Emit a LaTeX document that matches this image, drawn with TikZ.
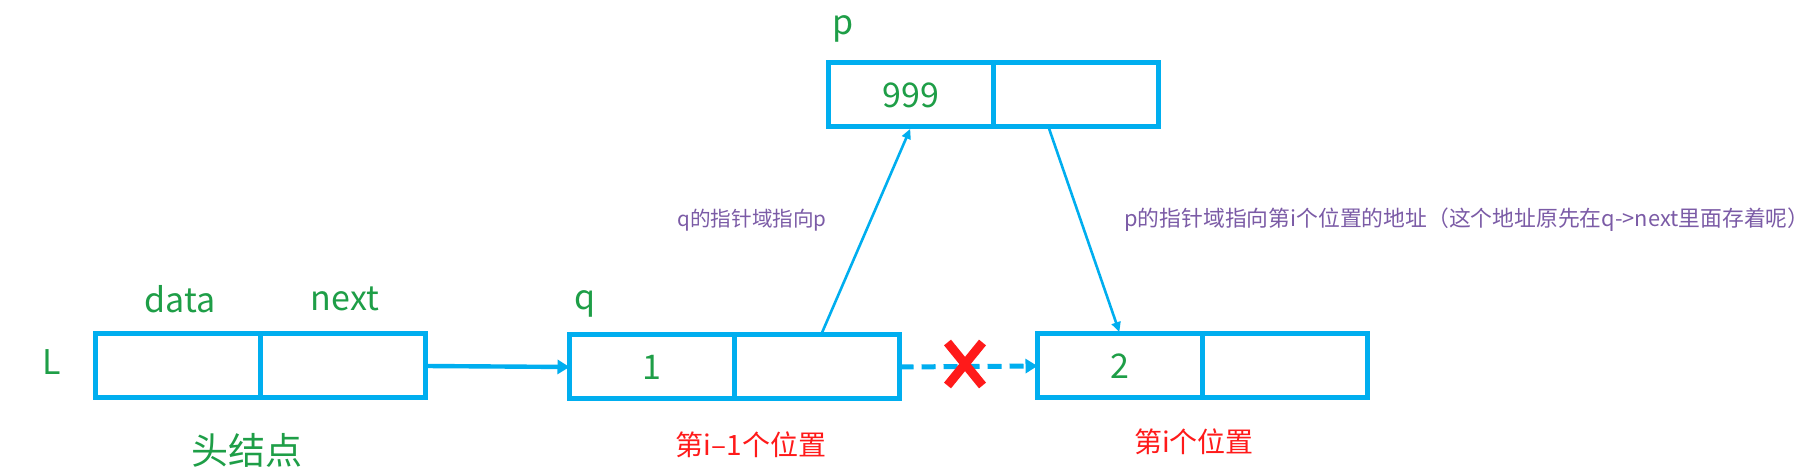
\documentclass[tikz,border=0pt]{standalone}
\usepackage{fontspec}
\setmainfont{Noto Sans CJK SC}
\usepackage{xcolor}
\usetikzlibrary{positioning, arrows.meta, shapes.misc}
\definecolor{linkblue}{HTML}{00AEEF}
\definecolor{namegreen}{HTML}{1E9E47}
\definecolor{notepurple}{HTML}{7B5BA6}
\definecolor{placered}{HTML}{FF1A1A}

\begin{document}
\begin{tikzpicture}
	[
	   x = 0.5pt, y = -0.5pt,
	   cell/.style = {draw = linkblue, line width = 2.5pt, outer sep = 0pt, inner sep = 0pt,
	                  minimum width = 82.5pt, minimum height = 32pt,
	                  text = namegreen, font = \fontsize{17}{20}\selectfont},
	   tag/.style = {text = namegreen, inner sep = 0pt, font = \fontsize{17}{20}\selectfont},
	   note/.style = {text = notepurple, inner sep = 0pt, font = \fontsize{10.3}{12}\selectfont},
	   place/.style = {text = placered, inner sep = 0pt, font = \fontsize{14}{16}\selectfont},
	   link/.style = {draw = linkblue, line width = 1.3pt, -{Triangle[length = 5pt, width = 4.5pt]}},
	   thick link/.style = {draw = linkblue, line width = 2.2pt, -{Triangle[length = 6pt, width = 7pt]}},
	]
	\useasboundingbox (0,0) rectangle (1818,469);

	% head node
	\node[cell] (hdata) at (178,366) {};
	\node[cell, right = 0pt of hdata] (hnext) {};
	\node[tag] (dlbl) at (180,299) {data};
	\node[tag] (nlbl) at (345,299) {next};
	\node[tag, font = \fontsize{17}{20}\selectfont] (llbl) at (52,362) {L};
	\node[tag, font = \fontsize{18.5}{20}\selectfont] (hlbl) at (247,450) {头结点};

	% node q (i-1)
	\node[cell] (qdata) at (652,367) {1};
	\node[cell, right = 0pt of qdata] (qnext) {};
	\node[tag] (qlbl) at (585,304) {q};
	\node[place] (qpos) at (751,445) {第i–1个位置};

	% node p (new)
	\node[cell] (pdata) at (911,95) {999};
	\node[cell, right = 0pt of pdata] (pnext) {};
	\node[tag] (plbl) at (843,29) {p};

	% node i
	\node[cell] (sdata) at (1120,366) {2};
	\node[cell, right = 0pt of sdata] (snext) {};
	\node[place] (spos) at (1194,442) {第i个位置};

	% notes
	\node[note] (qnote) at (752,220) {q的指针域指向p};
	\node[note, anchor = west, font = \fontsize{10.9}{12}\selectfont] (pnote) at (1124,220) {p的指针域指向第i个位置的地址（这个地址原先在q->next里面存着呢）};

	% links
	\draw[thick link] (hnext.east) -- (qdata.west);
	\draw[link, shorten > = 1pt] ([xshift = 2pt]qnext.north) -- (pdata.south);
	\draw[link, shorten > = 1pt] ([xshift = -13.75pt]pnext.south) -- (sdata.north);
	\draw[thick link, line width = 2.5pt, dash pattern = on 7pt off 4pt] (qnext.east) -- (sdata.west);
	\node[draw = placered, cross out, line width = 4.5pt, minimum width = 13pt, minimum height = 17pt] (cut) at (965,364) {};
\end{tikzpicture}
\end{document}
